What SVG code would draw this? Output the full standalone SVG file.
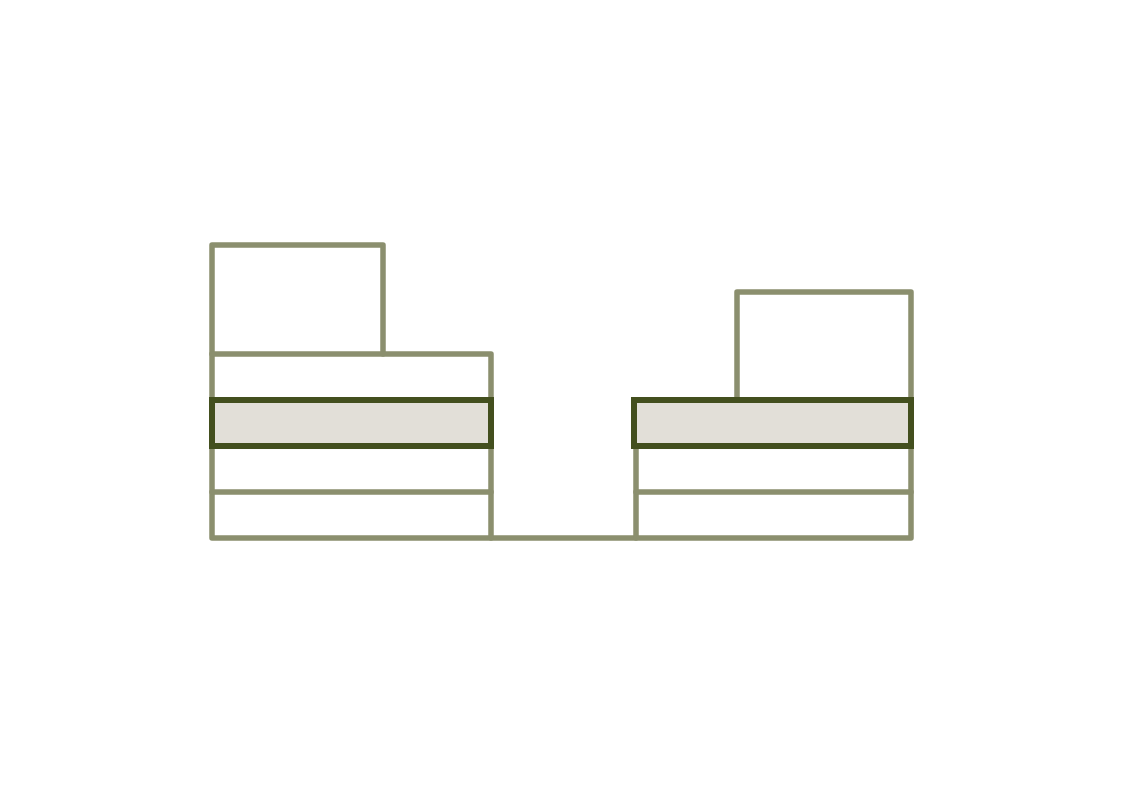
<svg xmlns="http://www.w3.org/2000/svg" width="1126" height="796" viewBox="0 0 1126 796">
<style>
.l{fill:none;stroke:#8b8f6e;stroke-width:5.5;stroke-linejoin:round;stroke-linecap:round}
.h{fill:#e2dfd8;stroke:#434f1e;stroke-width:6}
</style>
<rect width="1126" height="796" fill="#ffffff"/>
<g id="connectors">
<path class="l" d="M491,538 L636,538"/>
</g>
<g id="left-stack">
<path class="l" d="M212,400 L212,245 L383,245 L383,354"/>
<path class="l" d="M212,354 L491,354 L491,400"/>
<rect class="l" x="212" y="446" width="279" height="92"/>
<path class="l" d="M212,492 L491,492"/>
<rect class="h" x="212" y="400" width="279" height="46"/>
</g>
<g id="right-stack">
<path class="l" d="M737,400 L737,292 L911,292 L911,400"/>
<rect class="l" x="636" y="446" width="275" height="92"/>
<path class="l" d="M636,492 L911,492"/>
<rect class="h" x="634" y="400" width="277" height="46"/>
</g>
</svg>
